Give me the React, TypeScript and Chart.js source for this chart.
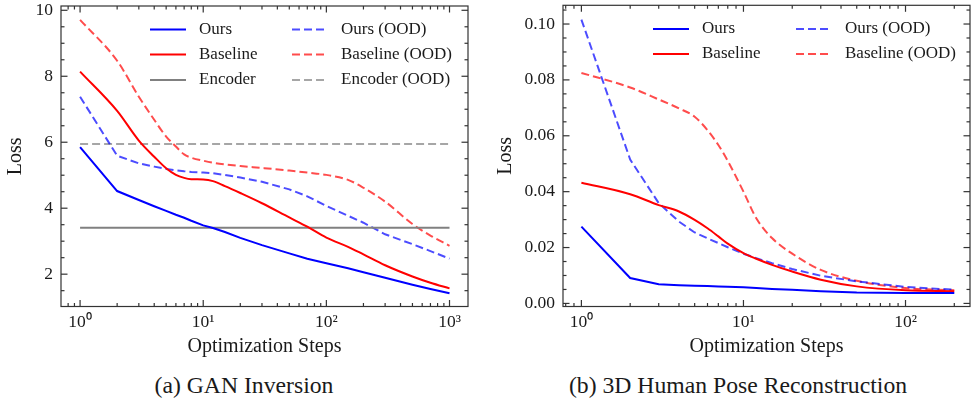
import React, { useEffect, useRef } from 'react';
import { Chart, registerables } from 'chart.js';

Chart.register(...registerables);

const SERIF = "'Liberation Serif', 'Times New Roman', Times, serif";
const TEXT = '#1a1a1a';

// ---------- (a) GAN Inversion ----------
const GAN_STEPS = [1, 2, 3, 4, 5, 6, 7, 8, 10, 12, 15, 20, 30, 50, 70, 100, 150, 200, 300, 500, 700, 1000];
const GAN_OURS = [5.85, 4.52, 4.25, 4.06, 3.92, 3.8, 3.71, 3.62, 3.48, 3.4, 3.28, 3.1, 2.88, 2.63, 2.47, 2.33, 2.18, 2.06, 1.89, 1.68, 1.55, 1.42];
const GAN_BASELINE = [8.14, 6.95, 6.05, 5.56, 5.21, 5.01, 4.92, 4.88, 4.87, 4.82, 4.67, 4.46, 4.15, 3.72, 3.44, 3.11, 2.83, 2.6, 2.27, 1.93, 1.74, 1.57];
const GAN_OURS_OOD = [7.38, 5.59, 5.36, 5.26, 5.19, 5.15, 5.12, 5.1, 5.08, 5.06, 5.01, 4.93, 4.8, 4.57, 4.36, 4.07, 3.77, 3.56, 3.21, 2.91, 2.7, 2.47];
const GAN_BASELINE_OOD = [9.71, 8.47, 7.38, 6.68, 6.17, 5.87, 5.63, 5.53, 5.44, 5.38, 5.33, 5.28, 5.22, 5.14, 5.08, 5.01, 4.86, 4.62, 4.2, 3.52, 3.17, 2.86];
const GAN_ENCODER_STEPS = [1, 1000];
const GAN_ENCODER = [3.41, 3.41];
const GAN_ENCODER_OOD = [5.95, 5.95];
const GAN_X_TICKS = [1, 10, 100, 1000];
const GAN_Y_TICKS = [2, 4, 6, 8, 10];

// ---------- (b) 3D Human Pose Reconstruction ----------
const POSE_STEPS = [1, 2, 3, 4, 5, 6, 7, 8, 10, 12, 15, 20, 30, 50, 100, 200];
const POSE_OURS = [0.0275, 0.0091, 0.0069, 0.0065, 0.0063, 0.0062, 0.0061, 0.006, 0.0058, 0.0055, 0.0052, 0.0049, 0.0044, 0.0039, 0.0037, 0.0037];
const POSE_BASELINE = [0.0432, 0.0391, 0.0352, 0.0329, 0.0299, 0.0269, 0.024, 0.0214, 0.018, 0.016, 0.0138, 0.0114, 0.0085, 0.0061, 0.0047, 0.0044];
const POSE_OURS_OOD = [0.1016, 0.0515, 0.0359, 0.0293, 0.0254, 0.0233, 0.0216, 0.0201, 0.0178, 0.0162, 0.0144, 0.0123, 0.0099, 0.0079, 0.0059, 0.0049];
const POSE_BASELINE_OOD = [0.0825, 0.0773, 0.073, 0.0698, 0.0668, 0.062, 0.0567, 0.051, 0.04, 0.0305, 0.0234, 0.0178, 0.012, 0.0081, 0.0055, 0.0047];
const POSE_X_TICKS = [1, 10, 100];
const POSE_Y_TICKS = [0, 0.02, 0.04, 0.06, 0.08, 0.1];

const SUP: Record<number, string> = { 0: '\u2070', 1: '\u00B9', 2: '\u00B2', 3: '\u00B3' };

const BLUE = '#0000ff';
const RED = '#ff0000';
const GRAY = '#808080';
const BLUE_OOD = 'rgba(0,0,255,0.7)';
const RED_OOD = 'rgba(255,0,0,0.7)';
const GRAY_OOD = 'rgba(128,128,128,0.7)';

type Series = { label: string; steps: number[]; values: number[]; color: string; dashed: boolean; smooth?: boolean };

type PanelSpec = {
  series: Series[];
  xMin: number; xMax: number; yMin: number; yMax: number;
  xTicks: number[]; yTicks: number[]; yMinorStep: number;
  yFormat: (v: number) => string;
  padTop: number; padRight: number; yAxisWidth: number; xAxisHeight: number;
  legendCols: number[]; legendRows: number[];
};

const toXY = (steps: number[], values: number[]) => steps.map((s, i) => ({ x: s, y: values[i] }));

const sciPlugin = {
  id: 'sci',
  afterDraw(chart: any, _args: any, opts: any) {
    const { ctx, chartArea: a, scales } = chart;
    const xs = scales.x;
    const ys = scales.y;
    const major = 6.5;
    const minor = 3.5;
    ctx.save();
    ctx.strokeStyle = '#333';
    ctx.lineWidth = 1.2;
    const seg = (x1: number, y1: number, x2: number, y2: number) => {
      ctx.beginPath();
      ctx.moveTo(x1, y1);
      ctx.lineTo(x2, y2);
      ctx.stroke();
    };
    const xTick = (v: number, len: number) => {
      const p = xs.getPixelForValue(v);
      if (p < a.left + 0.5 || p > a.right - 0.5) return;
      seg(p, a.bottom, p, a.bottom - len);
      seg(p, a.top, p, a.top + len);
    };
    const yTick = (v: number, len: number) => {
      const p = ys.getPixelForValue(v);
      if (p < a.top + 0.5 || p > a.bottom - 0.5) return;
      seg(a.left, p, a.left + len, p);
      seg(a.right, p, a.right - len, p);
    };
    // x log ticks
    const d0 = Math.floor(Math.log10(xs.min));
    const d1 = Math.ceil(Math.log10(xs.max));
    for (let d = d0; d <= d1; d++) {
      const base = Math.pow(10, d);
      for (let m = 1; m <= 9; m++) {
        const v = base * m;
        if (v < xs.min || v > xs.max) continue;
        xTick(v, m === 1 ? major : minor);
      }
    }
    // y ticks
    const step = opts.yMinorStep;
    const k0 = Math.ceil(ys.min / step - 1e-9);
    const k1 = Math.floor(ys.max / step + 1e-9);
    const majors: number[] = opts.yTicks;
    for (let k = k0; k <= k1; k++) {
      const v = k * step;
      const isMajor = majors.some((m) => Math.abs(m - v) < step * 1e-3);
      yTick(v, isMajor ? major : minor);
    }
    // frame
    ctx.strokeRect(a.left, a.top, a.right - a.left, a.bottom - a.top);

    // legend (column-major)
    const rows: number[] = opts.legendRows;
    const cols: number[] = opts.legendCols;
    ctx.font = `17px ${SERIF}`;
    ctx.textBaseline = 'middle';
    ctx.textAlign = 'left';
    chart.data.datasets.forEach((ds: any, i: number) => {
      const c = Math.floor(i / rows.length);
      const r = i % rows.length;
      const x0 = cols[c];
      const y0 = rows[r];
      ctx.save();
      ctx.strokeStyle = ds.borderColor;
      ctx.lineWidth = ds.borderWidth;
      ctx.setLineDash(ds.borderDash || []);
      seg(x0, y0, x0 + 36, y0);
      ctx.restore();
      ctx.fillStyle = TEXT;
      ctx.fillText(ds.label, x0 + 49, y0);
    });
    ctx.restore();
  },
};

function buildConfig(p: PanelSpec): any {
  return {
    type: 'line',
    data: {
      datasets: p.series.map((s) => ({
        label: s.label,
        data: toXY(s.steps, s.values),
        borderColor: s.color,
        backgroundColor: s.color,
        borderWidth: 2,
        borderDash: s.dashed ? [8, 4] : [],
        pointRadius: 0,
        pointHoverRadius: 0,
        tension: 0,
        cubicInterpolationMode: s.smooth ? 'monotone' : 'default',
        fill: false,
      })),
    },
    options: {
      animation: false,
      responsive: false,
      events: [],
      layout: { padding: { left: 0, right: p.padRight, top: p.padTop, bottom: 0 } },
      plugins: {
        legend: { display: false },
        tooltip: { enabled: false },
        sci: { yMinorStep: p.yMinorStep, yTicks: p.yTicks, legendCols: p.legendCols, legendRows: p.legendRows },
      },
      scales: {
        x: {
          type: 'logarithmic',
          min: p.xMin,
          max: p.xMax,
          grid: { display: false, drawTicks: false, tickLength: 0 },
          border: { display: false },
          afterBuildTicks: (s: any) => {
            s.ticks = p.xTicks.map((v) => ({ value: v }));
          },
          afterFit: (s: any) => {
            s.height = p.xAxisHeight;
            s.paddingLeft = 0;
            s.paddingRight = 0;
          },
          ticks: {
            autoSkip: false,
            maxRotation: 0,
            minRotation: 0,
            padding: 5,
            color: TEXT,
            font: { family: SERIF, size: 17.5 },
            callback: (v: number) => '10' + SUP[Math.round(Math.log10(v))],
          },
          title: {
            display: true,
            text: 'Optimization Steps',
            color: TEXT,
            font: { family: SERIF, size: 20 },
            padding: { top: 0, bottom: 11.5 },
          },
        },
        y: {
          type: 'linear',
          min: p.yMin,
          max: p.yMax,
          grid: { display: false, drawTicks: false, tickLength: 0 },
          border: { display: false },
          afterBuildTicks: (s: any) => {
            s.ticks = p.yTicks.map((v) => ({ value: v }));
          },
          afterFit: (s: any) => {
            s.width = p.yAxisWidth;
            s.paddingTop = 0;
            s.paddingBottom = 0;
          },
          ticks: {
            autoSkip: false,
            padding: 8,
            color: TEXT,
            font: { family: SERIF, size: 17.5 },
            callback: (v: number) => p.yFormat(v),
          },
          title: {
            display: true,
            text: 'Loss',
            color: TEXT,
            font: { family: SERIF, size: 20 },
            padding: { top: 4, bottom: 0 },
          },
        },
      },
    },
    plugins: [sciPlugin],
  };
}

const GAN_SPEC: PanelSpec = {
  series: [
    { label: 'Ours', steps: GAN_STEPS, values: GAN_OURS, color: BLUE, dashed: false },
    { label: 'Baseline', steps: GAN_STEPS, values: GAN_BASELINE, color: RED, dashed: false, smooth: true },
    { label: 'Encoder', steps: GAN_ENCODER_STEPS, values: GAN_ENCODER, color: GRAY, dashed: false },
    { label: 'Ours (OOD)', steps: GAN_STEPS, values: GAN_OURS_OOD, color: BLUE_OOD, dashed: true },
    { label: 'Baseline (OOD)', steps: GAN_STEPS, values: GAN_BASELINE_OOD, color: RED_OOD, dashed: true, smooth: true },
    { label: 'Encoder (OOD)', steps: GAN_ENCODER_STEPS, values: GAN_ENCODER_OOD, color: GRAY_OOD, dashed: true },
  ],
  xMin: 0.708,
  xMax: 1413,
  yMin: 1.02,
  yMax: 10.13,
  xTicks: GAN_X_TICKS,
  yTicks: GAN_Y_TICKS,
  yMinorStep: 0.5,
  yFormat: (v) => String(v),
  padTop: 6,
  padRight: 22,
  yAxisWidth: 61,
  xAxisHeight: 63.5,
  legendCols: [150, 292],
  legendRows: [29.5, 54.5, 80],
};

const POSE_SPEC: PanelSpec = {
  series: [
    { label: 'Ours', steps: POSE_STEPS, values: POSE_OURS, color: BLUE, dashed: false },
    { label: 'Baseline', steps: POSE_STEPS, values: POSE_BASELINE, color: RED, dashed: false, smooth: true },
    { label: 'Ours (OOD)', steps: POSE_STEPS, values: POSE_OURS_OOD, color: BLUE_OOD, dashed: true },
    { label: 'Baseline (OOD)', steps: POSE_STEPS, values: POSE_BASELINE_OOD, color: RED_OOD, dashed: true, smooth: true },
  ],
  xMin: 0.77,
  xMax: 250,
  yMin: -0.0011,
  yMax: 0.1067,
  xTicks: POSE_X_TICKS,
  yTicks: POSE_Y_TICKS,
  yMinorStep: 0.005,
  yFormat: (v) => v.toFixed(2),
  padTop: 5.3,
  padRight: 1,
  yAxisWidth: 73,
  xAxisHeight: 63.5,
  legendCols: [163, 306],
  legendRows: [29, 54],
};

function Panel({ spec, left, width, height }: { spec: PanelSpec; left: number; width: number; height: number }) {
  const ref = useRef<HTMLCanvasElement>(null);
  useEffect(() => {
    const chart = new Chart(ref.current as HTMLCanvasElement, buildConfig(spec));
    return () => chart.destroy();
  }, [spec]);
  return (
    <canvas
      ref={ref}
      width={width}
      height={height}
      style={{ position: 'absolute', left, top: 0, width, height, display: 'block' }}
    />
  );
}

const captionStyle: React.CSSProperties = {
  position: 'absolute',
  top: 374,
  fontFamily: SERIF,
  fontSize: 23.7,
  lineHeight: '23.7px',
  color: TEXT,
  textAlign: 'center',
  whiteSpace: 'nowrap',
};

export default function App() {
  return (
    <div style={{ position: 'absolute', left: 0, top: 0, width: 971, height: 402, background: '#fff', overflow: 'hidden' }}>
      <Panel spec={GAN_SPEC} left={0} width={490} height={370} />
      <Panel spec={POSE_SPEC} left={490} width={481} height={370} />
      <div style={{ ...captionStyle, left: 144, width: 200 }}>(a) GAN Inversion</div>
      <div style={{ ...captionStyle, left: 538, width: 400 }}>(b) 3D Human Pose Reconstruction</div>
    </div>
  );
}
